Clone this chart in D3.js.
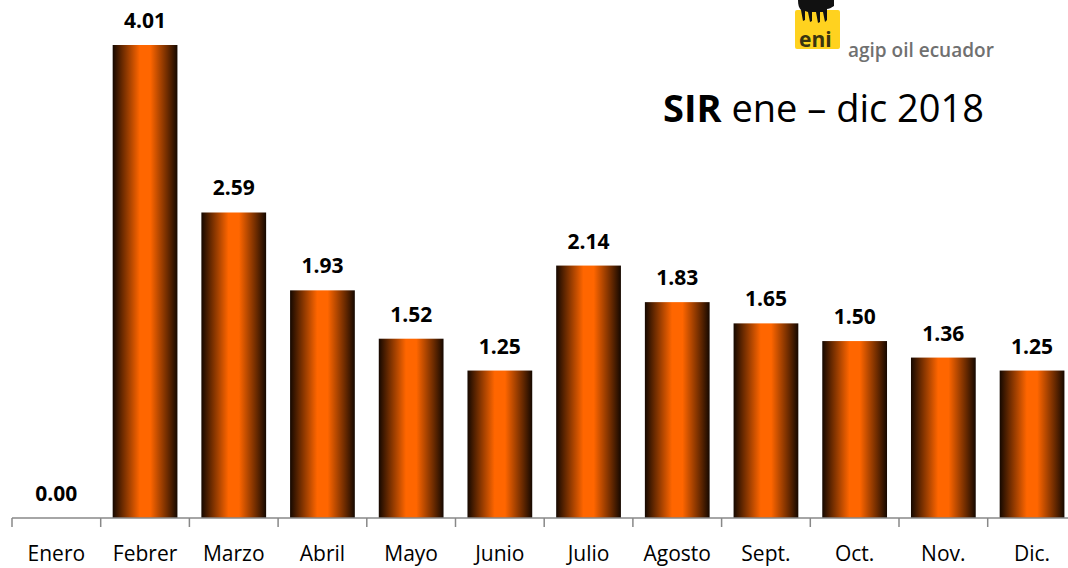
<!DOCTYPE html>
<html>
<head>
<meta charset="utf-8">
<script src="https://cdn.jsdelivr.net/npm/d3@7"></script>
<style>
body{margin:0;background:#fff;}
text{font-family:"Open Sans","Liberation Sans",sans-serif;}
</style>
</head>
<body>
<div id="chart"></div>
<script>
var months=["Enero","Febrer","Marzo","Abril","Mayo","Junio","Julio","Agosto","Sept.","Oct.","Nov.","Dic."];
var sir=[0.00,4.01,2.59,1.93,1.52,1.25,2.14,1.83,1.65,1.50,1.36,1.25];

var width=1068,height=568;
var x0=12,bandW=88.7,base=518;

var svg=d3.select("#chart").append("svg").attr("width",width).attr("height",height);

var grad=svg.append("defs").append("linearGradient").attr("id","barg").attr("x1","0%").attr("x2","100%");
grad.append("stop").attr("offset","0%").attr("stop-color","#150800");
grad.append("stop").attr("offset","15%").attr("stop-color","#6a2a00");
grad.append("stop").attr("offset","42%").attr("stop-color","#ff6600");
grad.append("stop").attr("offset","58%").attr("stop-color","#ff6600");
grad.append("stop").attr("offset","85%").attr("stop-color","#6a2a00");
grad.append("stop").attr("offset","100%").attr("stop-color","#150800");

var xScale=d3.scaleBand().domain(months).range([x0,x0+bandW*months.length]).paddingInner(0.27).paddingOuter(0.135);
var yScale=d3.scaleLinear().domain([0,4.01]).range([base,45]);

svg.selectAll("rect.bar").data(sir).enter().append("rect").attr("class","bar")
  .attr("x",(d,i)=>xScale(months[i]))
  .attr("y",d=>yScale(d))
  .attr("width",xScale.bandwidth())
  .attr("height",d=>base-yScale(d))
  .attr("fill","url(#barg)");

svg.selectAll("text.val").data(sir).enter().append("text").attr("class","val")
  .attr("x",(d,i)=>xScale(months[i])+xScale.bandwidth()/2)
  .attr("y",d=>yScale(d)-17)
  .attr("text-anchor","middle")
  .attr("font-size",21).attr("font-weight","bold").attr("fill","#000")
  .text(d=>d.toFixed(2));

// axis with ticks between categories
var axisG=svg.append("g");
axisG.append("line").attr("x1",x0).attr("x2",x0+bandW*months.length).attr("y1",base).attr("y2",base)
  .attr("stroke","#888").attr("stroke-width",1.5);
axisG.selectAll("line.tk").data(d3.range(months.length)).enter().append("line").attr("class","tk")
  .attr("x1",i=>x0+i*bandW).attr("x2",i=>x0+i*bandW).attr("y1",base).attr("y2",base+9)
  .attr("stroke","#888").attr("stroke-width",1.5);
axisG.selectAll("text.cat").data(months).enter().append("text").attr("class","cat")
  .attr("x",d=>xScale(d)+xScale.bandwidth()/2)
  .attr("y",561).attr("text-anchor","middle")
  .attr("font-size",21).attr("fill","#000").text(d=>d);

// title
var t=svg.append("text").attr("x",663).attr("y",122).attr("font-size",38).attr("fill","#000");
t.append("tspan").attr("font-weight","bold").text("SIR");
t.append("tspan").text(" ene \u2013 dic 2018");

// logo
var logo=svg.append("g");
logo.append("rect").attr("x",795).attr("y",10).attr("width",45).attr("height",39).attr("rx",2).attr("fill","#ffd21f");
logo.append("path").attr("d","M798,0 L834,0 L834,6 C831,8 829,9 827,9 L827,20 L825,22 L823,12 L820,12 L820,22 L818,23 L816,12 L812,12 L812,21 L810,22 L808,12 L805,11 L805,20 L803,21 L801,10 C799,8 798,5 798,0 Z")
  .attr("fill","#111");
logo.append("text").attr("x",799).attr("y",47).attr("font-size",21).attr("font-weight","bold").attr("fill","#3a3410").text("eni");
logo.append("text").attr("x",848).attr("y",57).attr("font-size",19).attr("font-weight","600").attr("fill","#707070").text("agip oil ecuador");
</script>
</body>
</html>
